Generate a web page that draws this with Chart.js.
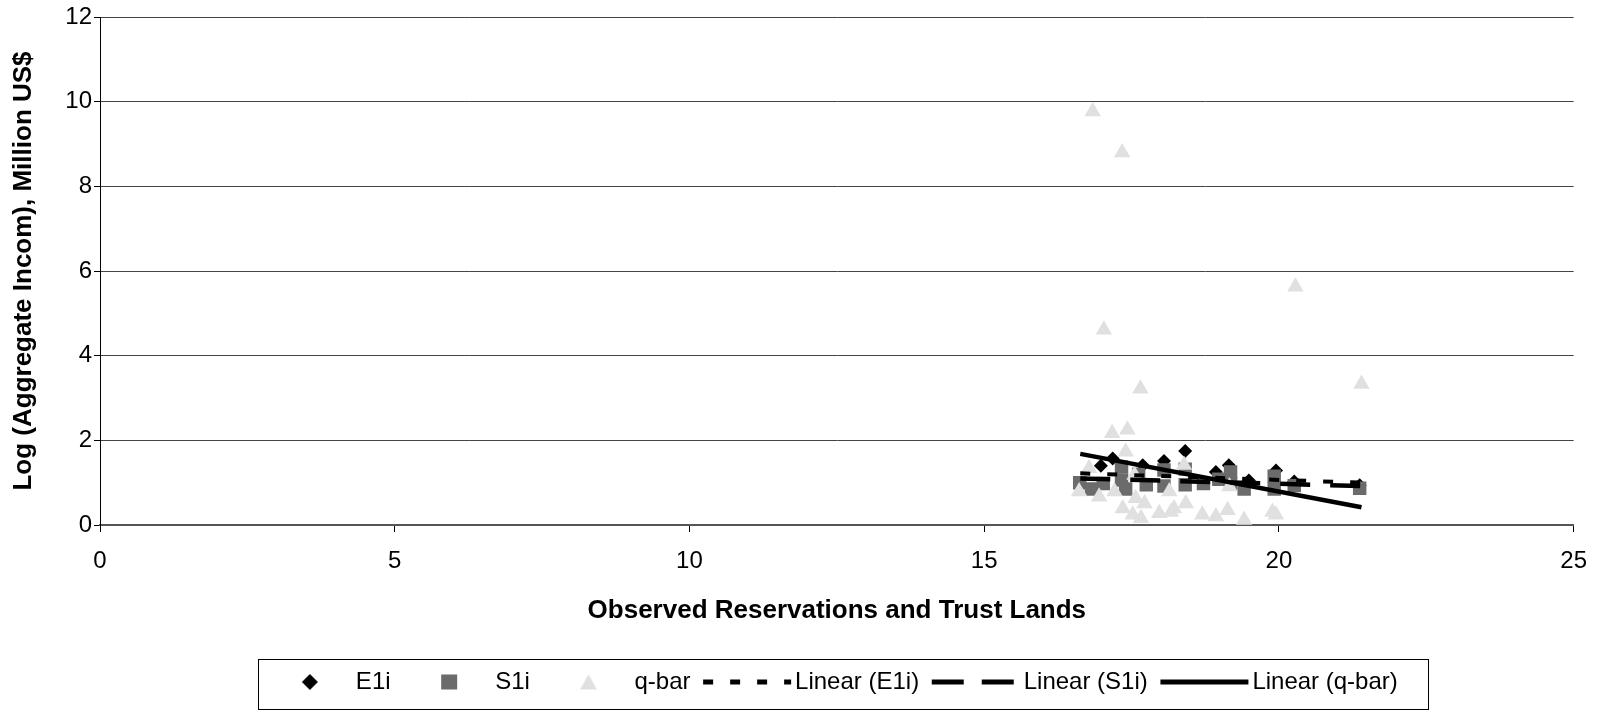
<!DOCTYPE html>
<html>
<head>
<meta charset="utf-8">
<script src="https://cdn.jsdelivr.net/npm/chart.js@4/dist/chart.umd.min.js"></script>
<style>
  html, body { margin: 0; padding: 0; background: #fff; }
  canvas { display: block; }
</style>
</head>
<body>
<canvas id="chart" width="1602" height="712"></canvas>
<script>
// Series: E1i (diamonds)
const e1iX = [16.98, 17.18, 17.69, 18.05, 18.41, 18.93, 19.15, 19.49, 19.95, 20.26, 21.37];
const e1iY = [1.40, 1.57, 1.41, 1.51, 1.75, 1.25, 1.41, 1.05, 1.29, 1.03, 0.94];

// Series: S1i (squares)
const s1iX = [16.62, 16.82, 17.02, 17.33, 17.33, 17.40, 17.62, 17.75, 18.05, 18.05, 18.41, 18.41, 18.72, 18.98, 19.18, 19.18, 19.41, 19.92, 19.92, 20.26, 21.37];
const s1iY = [1.00, 0.85, 0.98, 1.37, 1.06, 0.85, 1.20, 0.95, 1.30, 0.92, 1.32, 0.95, 0.98, 1.08, 1.25, 0.98, 0.85, 1.15, 0.85, 0.93, 0.87];

// Series: q-bar (triangles)
const qbarX = [16.84, 17.34, 20.28, 17.03, 17.65, 21.40, 17.17, 17.43, 17.40, 16.78, 16.61, 16.95, 17.21, 17.35, 17.57, 17.72, 17.52, 17.66, 17.97, 18.17, 18.14, 17.55, 18.39, 18.42, 18.22, 18.70, 18.93, 19.13, 19.41, 19.89, 19.95, 19.16];
const qbarY = [9.77, 8.80, 5.63, 4.61, 3.22, 3.33, 2.17, 2.25, 1.73, 1.34, 0.79, 0.67, 0.79, 0.39, 0.63, 0.51, 0.24, 0.16, 0.28, 0.31, 0.79, 1.18, 1.42, 0.51, 0.39, 0.24, 0.20, 0.35, 0.12, 0.31, 0.24, 0.91];

// Linear trend lines (end points)
const trendX = [16.63, 21.40];
const trendE1i = [1.22, 1.00];
const trendS1i = [1.10, 0.92];
const trendQbar = [1.68, 0.42];

// Axis ticks
const xTicks = [0, 5, 10, 15, 20, 25];
const yTicks = [0, 2, 4, 6, 8, 10, 12];

const seriesNames = ['E1i', 'S1i', 'q-bar', 'Linear (E1i)', 'Linear (S1i)', 'Linear (q-bar)'];
const xTitle = 'Observed Reservations and Trust Lands';
const yTitle = 'Log (Aggregate Incom), Million US$';

const FONT = "'Liberation Sans', Arial, Helvetica, sans-serif";
Chart.defaults.font.family = FONT;
Chart.defaults.color = '#000';

const toPoints = (xs, ys) => xs.map((x, i) => ({ x: x, y: ys[i] }));

// Legend sample images
function sampleCanvas(w, h, draw) {
  const c = document.createElement('canvas');
  c.width = w; c.height = h;
  draw(c.getContext('2d'), w, h);
  return c;
}
const diamondSample = sampleCanvas(20, 20, (g) => {
  g.fillStyle = '#000';
  g.beginPath(); g.moveTo(10, 2); g.lineTo(18, 10); g.lineTo(10, 18); g.lineTo(2, 10); g.closePath(); g.fill();
});
const squareSample = sampleCanvas(20, 20, (g) => {
  g.fillStyle = '#6b6b6b';
  g.fillRect(2, 2.5, 16, 15);
});
const triangleSample = sampleCanvas(20, 20, (g) => {
  g.fillStyle = '#e0e0e0';
  g.beginPath(); g.moveTo(10, 2.5); g.lineTo(18.5, 17.5); g.lineTo(1.5, 17.5); g.closePath(); g.fill();
});
function lineSample(dash) {
  return sampleCanvas(96, 8, (g) => {
    g.strokeStyle = '#000';
    g.lineWidth = 5;
    g.setLineDash(dash);
    g.beginPath(); g.moveTo(2, 4); g.lineTo(90, 4); g.stroke();
  });
}
const legendSamples = [diamondSample, squareSample, triangleSample, lineSample([10, 17]), lineSample([32, 18]), lineSample([])];

// Frame around the legend
const legendFrame = {
  id: 'legendFrame',
  afterDraw(chart) {
    const hb = chart.legend && chart.legend.legendHitBoxes;
    if (!hb || !hb.length) return;
    const first = hb[0], last = hb[hb.length - 1];
    const cy = first.top + first.height / 2;
    const left = Math.round(first.left - 18) + 0.5;
    const right = Math.round(last.left + last.width + 30) + 0.5;
    const top = Math.round(cy - 23) + 0.5;
    const bottom = Math.round(cy + 27) + 0.5;
    const ctx = chart.ctx;
    ctx.save();
    ctx.strokeStyle = '#000';
    ctx.lineWidth = 1;
    ctx.strokeRect(left, top, right - left, bottom - top);
    ctx.restore();
  }
};

new Chart(document.getElementById('chart'), {
  type: 'scatter',
  data: {
    datasets: [
      { label: seriesNames[0], data: toPoints(e1iX, e1iY), pointStyle: 'rectRot', pointRadius: 7,
        backgroundColor: '#000', borderWidth: 0, order: 6 },
      { label: seriesNames[1], data: toPoints(s1iX, s1iY), pointStyle: 'rect', pointRadius: 9.5,
        backgroundColor: '#6b6b6b', borderWidth: 0, order: 5 },
      { label: seriesNames[2], data: toPoints(qbarX, qbarY), pointStyle: 'triangle', pointRadius: 9.5,
        backgroundColor: '#e0e0e0', borderWidth: 0, order: 4 },
      { label: seriesNames[3], data: toPoints(trendX, trendE1i), showLine: true, pointRadius: 0,
        borderColor: '#000', borderWidth: 4, borderDash: [10, 17], fill: false, order: 3 },
      { label: seriesNames[4], data: toPoints(trendX, trendS1i), showLine: true, pointRadius: 0,
        borderColor: '#000', borderWidth: 4.5, borderDash: [30, 20], fill: false, order: 2 },
      { label: seriesNames[5], data: toPoints(trendX, trendQbar), showLine: true, pointRadius: 0,
        borderColor: '#000', borderWidth: 4.5, fill: false, order: 1 }
    ]
  },
  options: {
    responsive: false,
    animation: false,
    events: [],
    devicePixelRatio: 1,
    layout: { padding: { top: 17, right: 28, bottom: 8, left: 0 } },
    plugins: {
      tooltip: { enabled: false },
      legend: {
        position: 'bottom',
        fullSize: false,
        labels: {
          usePointStyle: true,
          pointStyleWidth: 68,
          boxHeight: 24,
          padding: 24.6,
          color: '#000',
          font: { size: 24, family: FONT },
          generateLabels: () => seriesNames.map((t, i) => ({
            text: t, pointStyle: legendSamples[i], fillStyle: 'rgba(0,0,0,0)',
            strokeStyle: 'rgba(0,0,0,0)', lineWidth: 0, hidden: false, datasetIndex: i, fontColor: '#000'
          }))
        }
      }
    },
    scales: {
      x: {
        type: 'linear',
        min: 0, max: 25,
        afterBuildTicks: (s) => { s.ticks = xTicks.map(v => ({ value: v })); },
        afterFit: (s) => { s.height = 120.4; },
        ticks: { font: { size: 24 }, color: '#000', padding: 15, maxRotation: 0 },
        grid: { drawOnChartArea: false, drawTicks: true, tickLength: 7, tickColor: '#000', color: '#000' },
        border: { display: true, color: '#555', width: 2 },
        title: { display: true, text: xTitle, color: '#000', font: { size: 26, weight: 'bold' }, padding: { top: 0, bottom: 18.8 } }
      },
      y: {
        type: 'linear',
        min: 0, max: 12,
        afterBuildTicks: (s) => { s.ticks = yTicks.map(v => ({ value: v })); },
        afterFit: (s) => { s.width = 100; },
        ticks: { font: { size: 24 }, color: '#000', padding: 2 },
        grid: { color: '#444', lineWidth: 1, tickLength: 6, tickColor: '#000' },
        border: { display: true, color: '#000', width: 1 },
        title: { display: true, text: yTitle, color: '#000', font: { size: 26, weight: 'bold' }, padding: { top: 8, bottom: 0 } }
      }
    }
  },
  plugins: [legendFrame]
});
</script>
</body>
</html>
